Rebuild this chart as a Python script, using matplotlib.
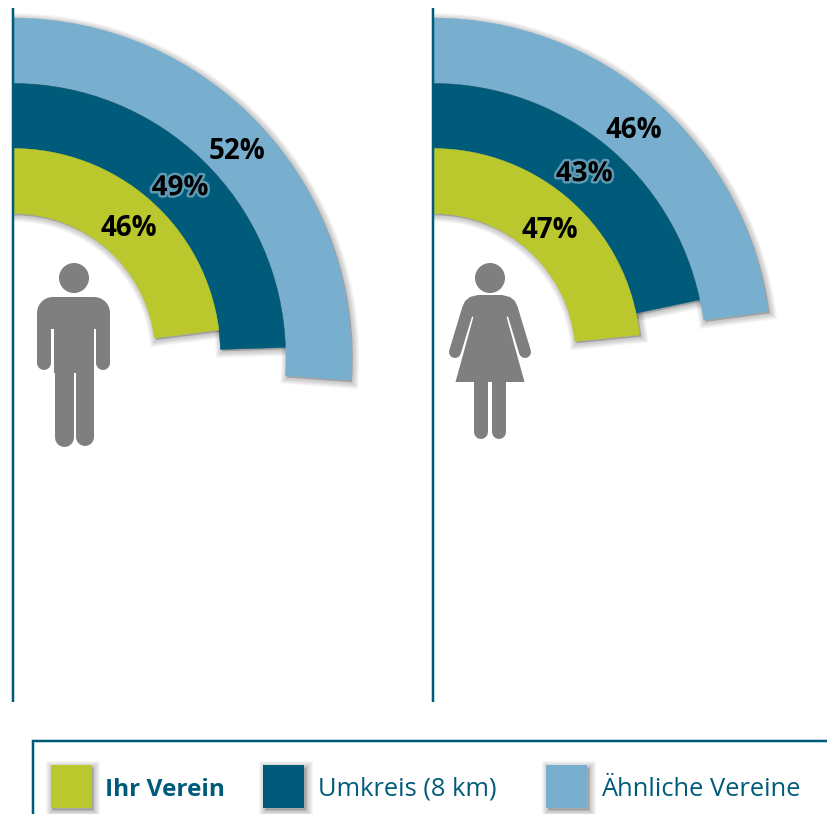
import numpy as np
import matplotlib
matplotlib.use('Agg')
import matplotlib.pyplot as plt
import matplotlib.patheffects as pe
from matplotlib.patches import Wedge, Circle, Rectangle, Polygon

plt.rcParams['font.family'] = ['Open Sans', 'DejaVu Sans']

# data, read from the ring ends (the labels show them rounded)
categories = ["Ihr Verein", "Umkreis (8 km)", "Ähnliche Vereine"]
maenner = [46, 49, 52.3]
frauen = [46.75, 43.4, 45.8]

color_list = ["#BAC72D", "#005B7A", "#78AFCE"]
line_color = "#005B7A"
icon_color = "#7F7F7F"

px = 0.72  # one pixel in points at dpi 100
center_y = 356
radius_list = [207.5, 272.5, 338]
ring_width = 65

fig = plt.figure(figsize=(8.27, 8.14), dpi=100)
ax = fig.add_axes([0, 0, 1, 1])
ax.set_xlim(0, 827)
ax.set_ylim(814, 0)
ax.axis('off')


def soft_shadow():
    # stacked strokes, slightly offset to the lower right
    effects = []
    for w in [13, 11, 9, 7, 5, 3]:
        effects.append(pe.Stroke(offset=(1.3, -1.3), linewidth=w * px, foreground='k', alpha=0.035))
    return effects


def draw_rings(center_x, values):
    clip = Rectangle((center_x - 1, 0), 827, 814, transform=ax.transData)
    for i in [2, 1, 0]:
        sweep = values[i] * 1.8
        shadow = Wedge((center_x, center_y), radius_list[i], -90, -90 + sweep, width=ring_width,
                       facecolor='k', edgecolor='none', zorder=1)
        ax.add_patch(shadow)
        shadow.set_clip_path(clip)
        shadow.set_path_effects(soft_shadow())
    for i in [2, 1, 0]:
        sweep = values[i] * 1.8
        wedge = Wedge((center_x, center_y), radius_list[i], -90, -90 + sweep, width=ring_width,
                      facecolor=color_list[i], edgecolor=color_list[i], lw=0.3, zorder=2 + (2 - i))
        ax.add_patch(wedge)
    for i in range(3):
        mid_r = radius_list[i] - ring_width / 2
        ang = np.deg2rad(values[i] * 1.8 / 2)
        t = ax.text(center_x + mid_r * np.sin(ang), center_y - mid_r * np.cos(ang) + 4, "%.0f%%" % values[i],
                    ha='center', va='center', fontsize=20, fontweight='bold', color='k', zorder=10)
        if i == 1:
            t.set_path_effects([pe.withStroke(linewidth=3.5, foreground='#5F9AB5')])
    ax.plot([center_x, center_x], [8, 702], color=line_color, lw=2.5 * px, zorder=8, solid_capstyle='butt')


def limb(xs, ys, width):
    ax.plot(xs, ys, color=icon_color, lw=width * px, solid_capstyle='round', zorder=6)


def draw_man():
    ax.add_patch(Circle((74, 278), 15, color=icon_color, lw=0, zorder=6))
    # shoulders, rounded at the top only
    ax.add_patch(Circle((53, 313), 16, color=icon_color, lw=0, zorder=6))
    ax.add_patch(Circle((94, 313), 16, color=icon_color, lw=0, zorder=6))
    ax.add_patch(Rectangle((53, 297), 41, 24, color=icon_color, lw=0, zorder=6))
    ax.add_patch(Rectangle((37, 313), 73, 8, color=icon_color, lw=0, zorder=6))
    ax.add_patch(Rectangle((54, 315), 40, 58, color=icon_color, lw=0, zorder=6))
    limb([44, 44], [318, 363], 14)
    limb([103, 103], [318, 363], 14)
    limb([63.5, 63.5], [370, 437], 19)
    limb([85, 85], [370, 437], 18)


def draw_woman():
    ax.add_patch(Circle((490, 278), 15, color=icon_color, lw=0, zorder=6))
    ax.add_patch(Polygon([(462.5, 307), (465, 301), (470, 297), (478, 295), (502, 295), (510, 297),
                          (515, 301), (517.5, 307), (506, 318), (474, 318)],
                         closed=True, color=icon_color, lw=0, zorder=6))
    ax.add_patch(Polygon([(474, 315), (506, 315), (524.5, 382), (455.5, 382)], closed=True,
                         color=icon_color, lw=0, zorder=6))
    limb([468, 455], [309, 352], 12)
    limb([512, 525], [309, 352], 12)
    ax.add_patch(Rectangle((474, 380), 14, 10, color=icon_color, lw=0, zorder=6))
    ax.add_patch(Rectangle((492, 380), 13.5, 10, color=icon_color, lw=0, zorder=6))
    limb([481, 481], [385, 432], 14)
    limb([498.5, 498.5], [385, 432], 14)


draw_rings(13, maenner)
draw_rings(433, frauen)
draw_man()
draw_woman()

# legend
ax.plot([33, 33, 827], [814, 741, 741], color=line_color, lw=2.5 * px, solid_joinstyle='miter', zorder=3)
box_x = [50.5, 263, 546]
text_x = [105, 318, 601]
for i in range(3):
    shadow = Rectangle((box_x[i], 765), 41, 43, facecolor='k', edgecolor='none', zorder=3)
    ax.add_patch(shadow)
    shadow.set_path_effects(soft_shadow())
    ax.add_patch(Rectangle((box_x[i], 765), 41, 43, facecolor=color_list[i], edgecolor='none', zorder=4))
    ax.text(text_x[i], 789.5, categories[i], ha='left', va='center', color=line_color,
            fontsize=17.6 if i == 0 else 18.4, fontweight='bold' if i == 0 else 'normal', zorder=5)

plt.savefig('out.png', dpi=100)
